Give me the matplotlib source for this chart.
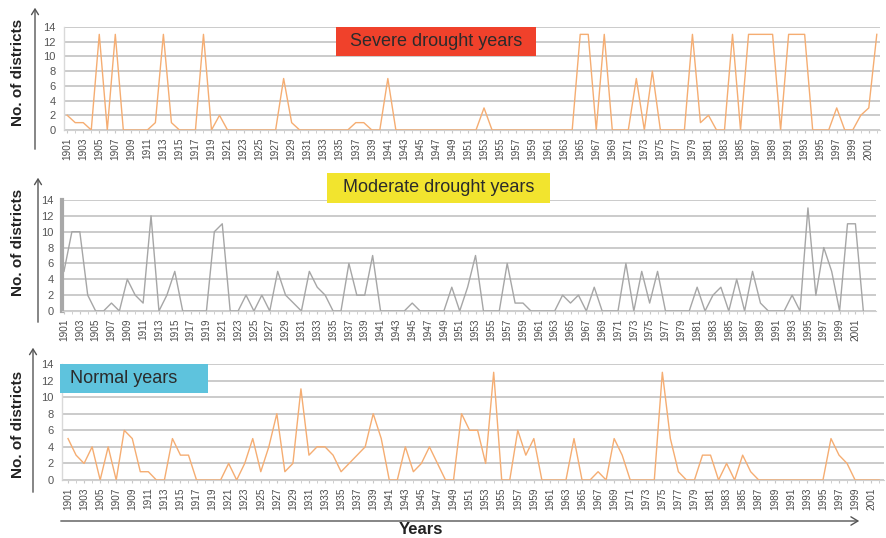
import numpy as np
import matplotlib
matplotlib.use('Agg')
import matplotlib.pyplot as plt
from matplotlib.patches import Rectangle, FancyArrowPatch

plt.rcParams['font.family'] = ['Liberation Sans', 'DejaVu Sans']

# Jahre 1901-2002
years = np.arange(1901, 2003)

severe = [2, 1, 1, 0, 13, 0, 13, 0, 0, 0,
          0, 1, 13, 1, 0, 0, 0, 13, 0, 2,
          0, 0, 0, 0, 0, 0, 0, 7, 1, 0,
          0, 0, 0, 0, 0, 0, 1, 1, 0, 0,
          7, 0, 0, 0, 0, 0, 0, 0, 0, 0,
          0, 0, 3, 0, 0, 0, 0, 0, 0, 0,
          0, 0, 0, 0, 13, 13, 0, 13, 0, 0,
          0, 7, 0, 8, 0, 0, 0, 0, 13, 1,
          2, 0, 0, 13, 0, 13, 13, 13, 13, 0,
          13, 13, 13, 0, 0, 0, 3, 0, 0, 2,
          3, 13]

moderate = [5, 10, 10, 2, 0, 0, 1, 0, 4, 2,
            1, 12, 0, 2, 5, 0, 0, 0, 0, 10,
            11, 0, 0, 2, 0, 2, 0, 5, 2, 1,
            0, 5, 3, 2, 0, 0, 6, 2, 2, 7,
            0, 0, 0, 0, 1, 0, 0, 0, 0, 3,
            0, 3, 7, 0, 0, 0, 6, 1, 1, 0,
            0, 0, 0, 2, 1, 2, 0, 3, 0, 0,
            0, 6, 0, 5, 1, 5, 0, 0, 0, 0,
            3, 0, 2, 3, 0, 4, 0, 5, 1, 0,
            0, 0, 2, 0, 13, 2, 8, 5, 0, 11,
            11, 0]

normal = [5, 3, 2, 4, 0, 4, 0, 6, 5, 1,
          1, 0, 0, 5, 3, 3, 0, 0, 0, 0,
          2, 0, 2, 5, 1, 4, 8, 1, 2, 11,
          3, 4, 4, 3, 1, 2, 3, 4, 8, 5,
          0, 0, 4, 1, 2, 4, 2, 0, 0, 8,
          6, 6, 2, 13, 0, 0, 6, 3, 5, 0,
          0, 0, 0, 5, 0, 0, 1, 0, 5, 3,
          0, 0, 0, 0, 13, 5, 1, 0, 0, 3,
          3, 0, 2, 0, 3, 1, 0, 0, 0, 0,
          0, 0, 0, 0, 0, 5, 3, 2, 0, 0,
          0, 0]

W, H = 886, 538
fig = plt.figure(figsize=(W / 100, H / 100), dpi=100)


def px_axes(x0, x1, ytop, ybot):
    return fig.add_axes([x0 / W, 1 - ybot / H, (x1 - x0) / W, (ybot - ytop) / H])


def style(ax, xlim, left_col='#D9D9D9', left_lw=1.0):
    ax.set_xlim(*xlim)
    ax.set_ylim(0, 14)
    ax.set_yticks(range(0, 15, 2))
    ax.yaxis.grid(True, color='#BDBDBD', linewidth=1.1)
    ax.set_axisbelow(True)
    ax.set_xticks(years[::2])
    ax.set_xticklabels([str(y) for y in years[::2]], rotation=90, fontsize=7.2, color='#4A4A4A')
    ax.set_xticks(years, minor=True)
    ax.tick_params(axis='x', which='both', length=2.5, color='#C8C8C8', pad=3)
    ax.tick_params(axis='y', length=0, labelsize=8, labelcolor='#555555', pad=6)
    for s in ['top', 'right']:
        ax.spines[s].set_visible(False)
    ax.spines['bottom'].set_color('#D0D0D0')
    ax.spines['left'].set_color(left_col)
    ax.spines['left'].set_linewidth(left_lw)


def label_box(x0, x1, ytop, ybot, color, text, ha='center'):
    fig.patches.append(Rectangle((x0 / W, 1 - ybot / H), (x1 - x0) / W, (ybot - ytop) / H,
                                 transform=fig.transFigure, facecolor=color, edgecolor='none', zorder=5))
    tx = (x0 + x1) / 2 if ha == 'center' else x0 + 10
    fig.text(tx / W, 1 - (ytop + ybot) / 2 / H, text, ha=ha, va='center',
             fontsize=13, color='#2B2B2B', zorder=6)


def y_arrow(x, ytop, ybot):
    fig.patches.append(FancyArrowPatch((x / W, 1 - ybot / H), (x / W, 1 - ytop / H),
                                       transform=fig.transFigure, arrowstyle='->,head_length=4,head_width=2.5',
                                       color='#555555', linewidth=1.0, mutation_scale=1))


def y_label(yc):
    fig.text(18 / W, 1 - yc / H, 'No. of districts', rotation=90, ha='center', va='center',
             fontsize=11, fontweight='bold', color='#222222')


# Panel 1: Severe
ax1 = px_axes(64, 880, 27, 130)
style(ax1, (1900.6, 2002.4))
ax1.plot(years, severe, color='#F5AD72', linewidth=1.0, clip_on=False)
label_box(336, 536, 27, 56, '#F0412B', 'Severe drought years')
y_arrow(35, 5, 152)
y_label(72)

# Panel 2: Moderate
ax2 = px_axes(62, 876, 200, 311)
style(ax2, (1900.75, 2003.6), left_col='#A8A8A8', left_lw=3)
ax2.plot(years, moderate, color='#A6A6A6', linewidth=1.0, clip_on=False)
label_box(327, 550, 173, 203, '#F2E42E', 'Moderate drought years')
y_arrow(38, 175, 325)
y_label(242)

# Panel 3: Normal
ax3 = px_axes(62, 884, 364, 480)
style(ax3, (1900.25, 2002.6))
ax3.plot(years, normal, color='#F5AD72', linewidth=1.0, clip_on=False)
label_box(60, 208, 364, 393, '#5EC3DD', 'Normal years', ha='left')
y_arrow(33, 345, 495)
y_label(424)

# x-Achsen-Pfeil und Beschriftung
fig.patches.append(FancyArrowPatch((58 / W, 1 - 521 / H), (862 / W, 1 - 521 / H),
                                   transform=fig.transFigure, arrowstyle='->,head_length=5,head_width=3',
                                   color='#555555', linewidth=1.0, mutation_scale=1))
fig.text(421 / W, 1 - 530 / H, 'Years', ha='center', va='center', fontsize=12,
         fontweight='bold', color='#222222')

plt.savefig('out.png', dpi=100)
